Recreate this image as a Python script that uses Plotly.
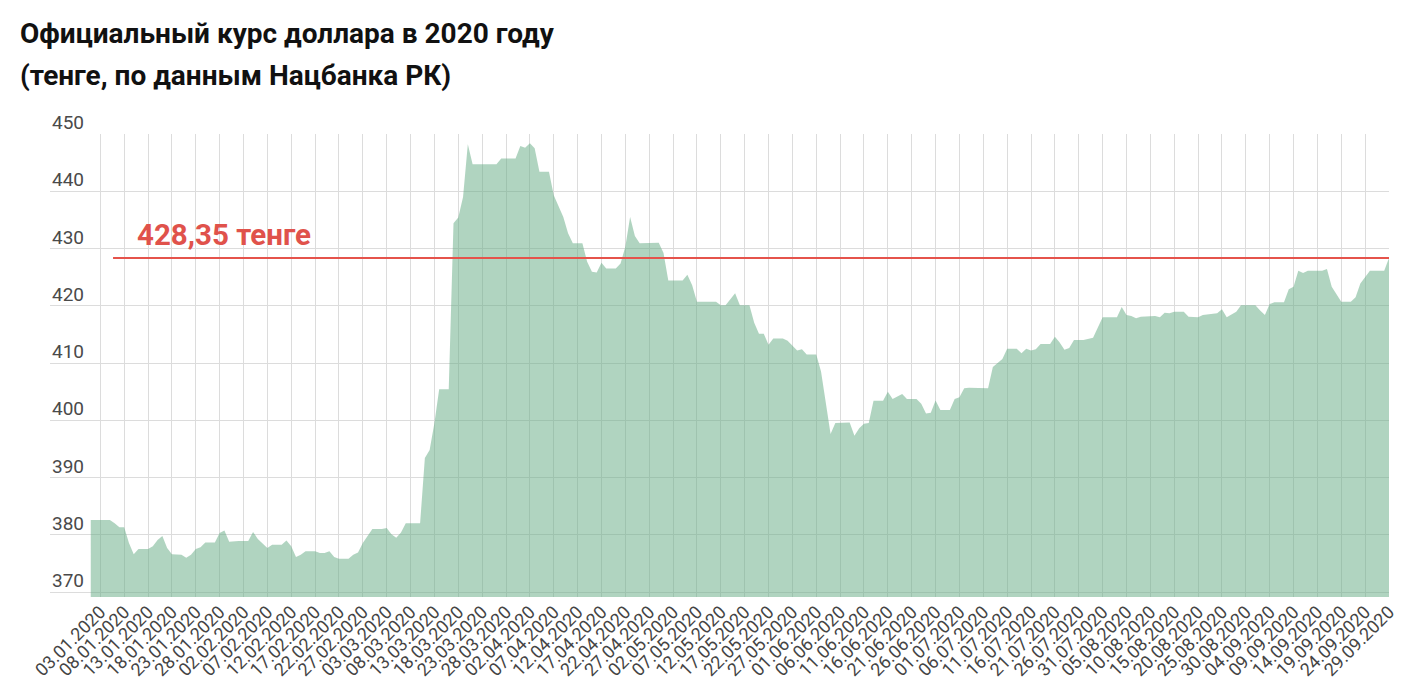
import pandas as pd
import plotly.graph_objects as go

# ---- data ----
start_date = "2020-01-01"
day_offsets = [0, 4, 5, 6, 7, 8, 9, 10, 12, 13, 14, 15, 16, 17, 19, 20, 21, 22, 23, 24,
               26, 27, 28, 29, 31, 33, 34, 35, 37, 38, 40, 41, 42, 43, 44, 45, 47, 48, 49, 50,
               51, 52, 54, 55, 56, 57, 59, 61, 62, 63, 64, 65, 66, 69, 70, 71, 72, 73, 75, 76,
               77, 78, 79, 80, 85, 86, 89, 90, 91, 92, 93, 94, 96, 97, 99, 100, 101, 103, 104, 105,
               106, 107, 108, 110, 111, 112, 113, 114, 115, 118, 119, 120, 121, 124, 125, 126, 127, 131, 132, 133,
               135, 136, 138, 139, 140, 141, 142, 143, 145, 146, 148, 149, 150, 152, 153, 155, 156, 159, 160, 161,
               162, 163, 164, 166, 167, 168, 170, 171, 173, 174, 175, 176, 177, 178, 180, 181, 182, 183, 184, 188,
               189, 190, 191, 192, 194, 195, 196, 197, 198, 199, 201, 202, 203, 204, 205, 206, 208, 210, 211, 212,
               215, 216, 217, 218, 219, 220, 223, 224, 225, 226, 227, 229, 230, 232, 233, 236, 237, 238, 240, 241,
               244, 245, 246, 247, 248, 250, 251, 252, 253, 254, 255, 258, 259, 260, 262, 264, 265, 266, 268, 271,
               272]
rates = [382.6, 382.6, 382.0, 381.3, 381.3, 378.55, 376.6, 377.5, 377.5, 378.0, 379.1, 379.8, 377.7, 376.6, 376.5, 376.0, 376.5, 377.5, 377.8, 378.65,
         378.65, 380.3, 380.75, 378.8, 378.9, 378.9, 380.5, 379.25, 377.7, 378.25, 378.25, 379.0, 378.0, 376.1, 376.5, 377.1, 377.1, 376.8, 376.8, 377.1,
         376.1, 375.8, 375.8, 376.5, 376.9, 378.55, 381.0, 381.0, 381.2, 380.1, 379.5, 380.4, 382.0, 382.0, 393.4, 394.8, 399.5, 405.4, 405.4, 434.4,
         435.4, 439.0, 448.2, 444.7, 444.7, 445.7, 445.7, 447.9, 447.6, 448.4, 447.5, 443.4, 443.4, 439.3, 435.5, 432.65, 430.9, 430.9, 427.7, 425.95,
         425.8, 427.5, 426.5, 426.5, 427.4, 430.3, 435.5, 432.2, 430.9, 430.9, 431.0, 429.2, 424.4, 424.4, 425.4, 423.6, 420.7, 420.7, 420.1, 420.1,
         422.2, 420.1, 420.1, 417.05, 415.1, 415.1, 413.2, 414.3, 414.3, 413.9, 412.2, 412.4, 411.5, 411.5, 408.5, 397.6, 399.5, 399.6, 397.3, 398.6,
         399.4, 399.5, 403.4, 403.4, 405.0, 403.7, 404.6, 403.7, 403.7, 402.9, 401.2, 401.3, 403.45, 401.8, 401.8, 403.7, 404.0, 405.6, 405.7, 405.6,
         409.3, 410.0, 410.7, 412.5, 412.5, 411.7, 412.5, 412.2, 412.4, 413.3, 413.3, 414.6, 413.6, 412.3, 412.6, 414.0, 414.0, 414.4, 416.25, 418.0,
         418.0, 419.8, 418.4, 418.2, 417.8, 418.1, 418.2, 418.0, 418.8, 418.7, 418.97, 418.97, 418.1, 418.0, 418.4, 418.7, 419.4, 418.0, 418.97, 420.1,
         420.1, 419.15, 418.4, 420.3, 420.6, 420.6, 422.9, 423.3, 426.1, 425.7, 426.1, 426.1, 426.4, 423.3, 420.7, 420.7, 421.5, 423.9, 426.1, 426.1,
         428.35]

y_ticks = [370, 380, 390, 400, 410, 420, 430, 440, 450]
tick_first = "2020-01-03"
tick_last = "2020-09-29"
reference_rate = 428.35
reference_label = "428,35 тенге"
title_line1 = "Официальный курс доллара в 2020 году"
title_line2 = "(тенге, по данным Нацбанка РК)"

# ---- build ----
dates = pd.Timestamp(start_date) + pd.to_timedelta(day_offsets, unit="D")
tick_dates = pd.date_range(tick_first, tick_last, freq="5D")
tick_text = [d.strftime("%d.%m.%Y") for d in tick_dates]

FONT = "Roboto"
fig = go.Figure()
fig.add_trace(go.Scatter(
    x=dates, y=rates, mode="lines",
    line=dict(width=0, color="rgba(97,169,129,0.5)"),
    fill="tozeroy", fillcolor="rgba(97,169,129,0.5)",
    hoverinfo="x+y", showlegend=False,
))

fig.add_shape(type="line", xref="x", yref="y",
              x0=pd.Timestamp("2020-01-05 16:00"), x1=dates[-1],
              y0=reference_rate, y1=reference_rate,
              line=dict(color="#e5534b", width=2), layer="above")

fig.add_annotation(xref="x", yref="y", x=pd.Timestamp("2020-01-10 06:00"), y=reference_rate,
                   xanchor="left", yanchor="middle", yshift=23, showarrow=False,
                   text="<b>" + reference_label + "</b>",
                   font=dict(family=FONT, size=29.5, color="#e0524b"))

# y-axis labels sit above their grid lines, at the left end of the lines
for v in y_ticks:
    fig.add_annotation(xref="paper", yref="y", x=0, y=v, xanchor="left", yanchor="bottom",
                       yshift=-2, showarrow=False, text=str(v),
                       font=dict(family=FONT, size=19, color="#4a4a4a"))

fig.add_annotation(xref="paper", yref="paper", x=0, y=1, xshift=-32, yshift=101,
                   xanchor="left", yanchor="middle", showarrow=False,
                   text="<b>" + title_line1 + "</b>",
                   font=dict(family=FONT, size=28, color="#111111"))
fig.add_annotation(xref="paper", yref="paper", x=0, y=1, xshift=-32, yshift=59,
                   xanchor="left", yanchor="middle", showarrow=False,
                   text="<b>" + title_line2 + "</b>",
                   font=dict(family=FONT, size=28, color="#111111"))

fig.update_layout(
    width=1412, height=690,
    margin=dict(l=50, r=23, t=134, b=93, autoexpand=False),
    plot_bgcolor="white", paper_bgcolor="white",
    font=dict(family=FONT),
    xaxis=dict(
        type="date", automargin=False,
        range=[pd.Timestamp("2019-12-23 11:00"), pd.Timestamp("2020-09-29")],
        tickvals=tick_dates, ticktext=tick_text, tickangle=-45,
        showgrid=True, gridcolor="#dcdcdc", gridwidth=1,
        zeroline=False, showline=False, ticks="",
        tickfont=dict(family=FONT, size=18, color="#444444"),
    ),
    yaxis=dict(
        automargin=False,
        range=[369.13, 450],
        tickvals=y_ticks, showticklabels=False,
        showgrid=True, gridcolor="#dcdcdc", gridwidth=1,
        zeroline=False, showline=False, ticks="",
    ),
)

fig.write_html("out.html", config={"displayModeBar": False},
               post_script="document.body.style.margin='0';")
